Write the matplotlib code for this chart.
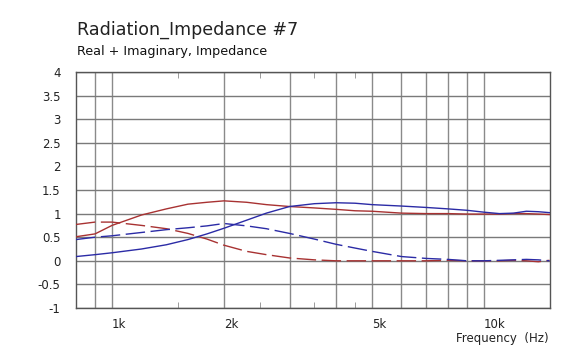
import matplotlib
matplotlib.use("Agg")
import matplotlib.pyplot as plt
import numpy as np

freq = [800, 900, 1000, 1200, 1400, 1600, 1800, 2000, 2300, 2600, 3000, 3500, 4000,
        4500, 5000, 6000, 7000, 8000, 9000, 10000, 11000, 12000, 13000, 14000, 15000]
real_red = [0.51, 0.57, 0.75, 0.97, 1.10, 1.20, 1.24, 1.27, 1.24, 1.19, 1.15, 1.12, 1.09,
            1.06, 1.05, 1.01, 1.00, 1.00, 0.99, 0.99, 0.99, 1.00, 1.00, 0.99, 0.98]
imag_red = [0.77, 0.82, 0.82, 0.75, 0.68, 0.58, 0.46, 0.33, 0.20, 0.13, 0.06, 0.02, 0.00,
            0.00, 0.00, 0.00, 0.00, 0.01, 0.00, 0.00, 0.00, 0.01, 0.00, -0.02, 0.01]
real_blue = [0.09, 0.13, 0.17, 0.25, 0.34, 0.45, 0.57, 0.69, 0.86, 1.01, 1.15, 1.21, 1.23,
             1.22, 1.19, 1.16, 1.13, 1.10, 1.07, 1.03, 1.00, 1.01, 1.05, 1.04, 1.02]
imag_blue = [0.45, 0.50, 0.53, 0.60, 0.66, 0.70, 0.74, 0.79, 0.74, 0.68, 0.58, 0.46, 0.35,
             0.27, 0.20, 0.09, 0.05, 0.03, 0.00, 0.00, 0.01, 0.02, 0.03, 0.02, 0.00]

xtick_vals = [1000, 2000, 5000, 10000]
xtick_labels = ["1k", "2k", "5k", "10k"]
xgrid_vals = [900, 1000, 2000, 3000, 4000, 5000, 6000, 7000, 8000, 9000, 10000]
xminor_vals = [1500, 2500, 3500, 4500]
yticks = [-1, -0.5, 0, 0.5, 1, 1.5, 2, 2.5, 3, 3.5, 4]
ytick_labels = ["-1", "-0.5", "0", "0.5", "1", "1.5", "2", "2.5", "3", "3.5", "4"]

plt.rcParams['font.family'] = ['DejaVu Sans']
fig = plt.figure(figsize=(5.78, 3.51), dpi=100)
ax = fig.add_axes([76/578, 1-308/351, (549.5-76)/578, (308-72)/351])

RED = "#a83232"
BLUE = "#2b2ba6"
GRID = "#8a8a8a"

ax.set_xscale('log')
ax.set_xlim(800, 15000)
ax.set_ylim(-1, 4)

for g in xgrid_vals:
    ax.axvline(g, color=GRID, lw=1.0, zorder=1)
for y in yticks:
    ax.axhline(y, color="#7a7a7a", lw=1.0, zorder=1)

ax.plot(freq, real_red, color=RED, lw=1.0, zorder=3)
ax.plot(freq, imag_red, color=RED, lw=1.0, dashes=(14, 4), zorder=3)
ax.plot(freq, real_blue, color=BLUE, lw=1.0, zorder=3)
ax.plot(freq, imag_blue, color=BLUE, lw=1.0, dashes=(14, 4), zorder=3)

ax.xaxis.set_major_locator(matplotlib.ticker.FixedLocator(xtick_vals))
ax.xaxis.set_major_formatter(matplotlib.ticker.FixedFormatter(xtick_labels))
ax.xaxis.set_minor_locator(matplotlib.ticker.FixedLocator(xminor_vals))
ax.xaxis.set_minor_formatter(matplotlib.ticker.NullFormatter())
ax.tick_params(axis='x', which='major', length=0, pad=7, labelsize=8.5, colors="#222222")
ax.tick_params(axis='x', which='minor', length=4, direction='in', top=True, bottom=True, color=GRID)
for lab in ax.get_xticklabels():
    lab.set_horizontalalignment('left')

ax.set_yticks(yticks)
ax.set_yticklabels(ytick_labels)
ax.tick_params(axis='y', length=0, pad=11, labelsize=8.5, colors="#222222")

for s in ax.spines.values():
    s.set_color("#555555")
    s.set_linewidth(1.0)

fig.text(77/578, 1-35/351, "Radiation_Impedance #7", fontsize=12.6, color="#222222", va='baseline', ha='left')
fig.text(77/578, 1-55.5/351, "Real + Imaginary, Impedance", fontsize=9.2, color="#111111", va='baseline', ha='left')
fig.text(549/578, 1-342/351, "Frequency  (Hz)", fontsize=8.5, color="#222222", va='baseline', ha='right')

fig.savefig("out.png", dpi=100, facecolor="white")
